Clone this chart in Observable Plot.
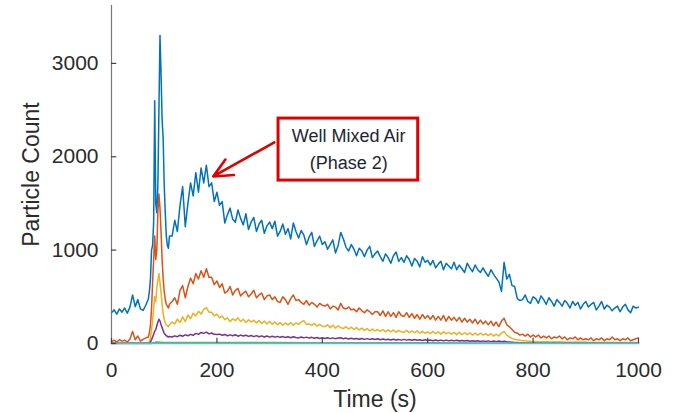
<!DOCTYPE html>
<html>
<head>
<meta charset="utf-8">
<script src="https://cdn.jsdelivr.net/npm/d3@7"></script>
<script src="https://cdn.jsdelivr.net/npm/@observablehq/plot@0.6"></script>
<style>
  html, body { margin: 0; padding: 0; background: #fff; }
</style>
</head>
<body>
<div id="chart"></div>
<script>
// ---- Data ----
const time = [
  0,5,10,15,20,25,30,35,40,45,50,55,60,65,70,
  72,74,76,78,80,82,84,86,88,90,92,94,96,98,100,102,104,106,108,110,
  115,120,125,130,135,140,145,150,155,160,165,170,175,180,185,190,195,200,
  205,210,215,220,225,230,235,240,245,250,
  255,260,265,270,275,280,285,290,295,300,
  305,310,315,320,325,330,335,340,345,350,
  355,360,365,370,375,380,385,390,395,400,
  405,410,415,420,425,430,435,440,445,450,
  455,460,465,470,475,480,485,490,495,500,
  505,510,515,520,525,530,535,540,545,550,
  555,560,565,570,575,580,585,590,595,600,
  605,610,615,620,625,630,635,640,645,650,
  655,660,665,670,675,680,685,690,695,700,
  705,710,715,720,725,730,735,740,745,750,
  755,760,765,770,775,780,785,790,795,800,
  805,810,815,820,825,830,835,840,845,850,
  855,860,865,870,875,880,885,890,895,900,
  905,910,915,920,925,930,935,940,945,950,
  955,960,965,970,975,980,985,990,995,1000
];

const blue = [
  330,360,315,370,335,380,325,390,520,395,470,370,355,410,480,
  560,700,1000,1050,1300,2600,1500,1400,1700,2500,3300,2900,2400,2200,1700,1400,1150,1050,1020,1150,
  1150,1320,1200,1480,1680,1250,1500,1720,1580,1830,1620,1880,1720,1910,1680,1720,1520,1620,
  1480,1520,1290,1380,1450,1330,1300,1430,1340,1270,
  1390,1220,1300,1350,1200,1280,1320,1180,1260,1300,
  1230,1310,1150,1200,1280,1170,1230,1120,1290,1200,
  1130,1210,1160,1060,1140,1190,1040,1100,1150,1060,
  1090,1010,1060,1110,970,1050,1190,1120,1030,990,
  1060,1010,940,1020,990,930,1000,1040,920,960,
  990,930,880,960,920,860,940,980,880,920,
  870,940,900,830,910,880,820,930,870,890,
  840,890,810,850,880,790,860,830,800,870,
  790,840,800,760,860,810,770,840,790,760,
  810,760,720,790,740,700,660,560,870,690,
  740,620,610,480,460,470,520,450,430,500,
  480,430,510,470,420,490,450,400,470,440,
  400,460,430,380,450,410,440,370,420,450,
  390,420,440,360,400,450,370,410,390,350,
  380,400,340,390,420,360,330,400,380,390
];

const orange = [
  20,35,15,40,25,35,15,45,130,40,80,25,45,60,70,
  120,200,380,650,900,1150,900,1000,1400,1600,1450,1200,900,700,560,470,420,400,380,420,
  450,490,420,570,620,490,610,700,640,750,690,780,710,800,710,710,630,670,
  600,640,540,560,610,520,570,590,510,540,
  560,500,530,570,490,520,540,470,510,520,
  470,500,450,440,500,470,420,480,520,460,
  470,440,420,460,410,440,420,390,430,410,
  400,420,370,400,390,360,430,380,370,390,
  360,370,340,380,350,330,360,340,310,340,
  340,300,350,290,340,290,330,280,340,300,
  290,330,280,320,270,310,260,310,270,300,
  260,300,250,290,250,300,240,290,250,280,
  240,280,230,270,230,260,220,260,210,250,
  210,240,200,240,190,230,180,240,270,200,
  180,150,120,110,90,100,80,100,70,90,
  70,90,60,80,60,80,50,70,60,80,
  50,70,40,60,50,70,40,60,40,50,
  40,60,30,50,40,60,30,50,40,70,
  40,50,30,50,40,60,30,40,50,60
];

const yellow = [
  5,8,5,6,5,8,6,5,10,6,8,5,6,8,10,
  20,60,150,250,380,500,450,600,680,750,650,550,420,320,260,220,200,190,180,200,
  230,210,260,225,285,235,305,265,325,295,345,315,365,385,335,335,295,315,
  275,295,255,275,235,265,245,275,235,260,
  225,255,230,250,220,245,215,240,210,235,
  205,230,200,225,195,220,200,225,195,220,
  205,230,245,205,210,195,215,185,205,185,
  180,200,170,195,165,190,170,160,180,155,
  175,150,170,145,165,140,160,135,155,135,
  150,130,150,125,145,125,145,120,140,125,
  120,140,115,135,115,135,110,130,110,125,
  105,130,105,125,100,125,105,120,100,120,
  95,120,95,115,95,115,90,110,90,110,
  90,105,85,105,80,100,80,110,130,90,
  70,55,45,40,35,30,30,25,25,20,
  22,20,18,20,18,20,16,18,15,18,
  15,17,14,16,14,16,13,15,13,15,
  12,14,12,14,12,14,11,13,11,13,
  11,12,10,12,10,12,10,11,10,12
];

const purple = [
  2,2,2,2,2,2,2,2,2,2,2,2,2,2,3,
  5,15,40,70,100,130,150,190,230,260,240,200,170,140,110,95,85,75,70,75,
  70,82,73,88,78,92,83,98,88,108,98,118,108,122,103,112,98,97,
  100,88,97,83,92,83,94,78,90,80,
  88,76,86,74,84,72,82,70,80,68,
  78,68,76,66,74,64,72,62,72,64,
  60,70,60,68,58,66,56,64,54,62,
  54,62,52,60,52,58,62,50,58,48,
  56,48,54,46,54,44,52,44,50,42,
  50,40,48,40,46,38,46,38,44,36,
  44,36,42,34,42,34,40,32,40,32,
  38,30,38,30,36,28,36,28,34,28,
  34,26,32,26,32,24,30,24,30,22,
  28,22,28,20,26,20,26,18,24,18,
  16,14,12,10,8,8,6,6,5,5,
  5,4,5,4,5,4,4,5,4,4,
  4,5,4,4,3,4,4,3,4,3,
  3,4,3,4,3,3,4,3,3,4,
  3,3,4,3,3,4,3,3,3,4
];

const timeLow = [0, 75, 85, 100, 150, 200, 300, 400, 500, 600, 700, 750, 800, 900, 1000];
const green   = [0, 0, 15, 10, 12, 12, 10, 9, 8, 7, 6, 5, 2, 2, 2];
const cyan    = [0, 0, 0, 0, 0, 0, 0, 0, 0, 0, 0, 0, 0, 0, 0];

const xTicks = [0, 200, 400, 600, 800, 1000];
const yTicks = [0, 1000, 2000, 3000];
const xLabel = "Time (s)";
const yLabel = "Particle Count";

// annotation (data coordinates)
const noteText = ["Well Mixed Air\n(Phase 2)"];
const noteX = [450];
const noteY = [2103];
const boxX = [317, 582];
const boxY = [1745, 2409];
const arrowFrom = [309, 2154];
const arrowTo = [193, 1789];

// ---- Build tables ----
const toRows = (ts, vs) => ts.map((t, i) => ({t, v: vs[i]})).filter(d => d.v !== undefined);
const series = [
  {rows: toRows(time, blue), color: "#0072BD"},
  {rows: toRows(time, orange), color: "#D95319"},
  {rows: toRows(time, yellow), color: "#EDB120"},
  {rows: toRows(time, purple), color: "#7E2F8E"},
  {rows: toRows(timeLow, green), color: "#77AC30"},
  {rows: toRows(timeLow, cyan), color: "#4DBEEE"}
];

const font = "'Liberation Sans', Arial, Helvetica, sans-serif";
const fmt = d => String(d);

const chart = Plot.plot({
  width: 674,
  height: 413,
  marginLeft: 111,
  marginRight: 36,
  marginTop: 5,
  marginBottom: 70,
  x: {domain: [0, 1000]},
  y: {domain: [0, 3620]},
  style: {fontFamily: font, color: "#2b2b2b", background: "#fff", overflow: "visible"},
  marks: [
    Plot.axisY({ticks: yTicks, tickFormat: fmt, tickSize: 0, tickPadding: 13, fontSize: 21, label: null, fill: "#2b2b2b"}),
    Plot.axisX({ticks: xTicks, tickFormat: fmt, tickSize: 0, tickPadding: 19, fontSize: 21, label: null, fill: "#2b2b2b"}),
    Plot.text([yLabel], {frameAnchor: "left", dx: -80, rotate: -90, fontSize: 23, fill: "#2b2b2b", lineAnchor: "middle", textAnchor: "middle"}),
    Plot.text([xLabel], {frameAnchor: "bottom", dy: 56, fontSize: 23, fill: "#2b2b2b", lineAnchor: "middle", textAnchor: "middle"}),
    ...series.map(s => Plot.line(s.rows, {x: "t", y: "v", stroke: s.color, strokeWidth: 1.5, strokeLinejoin: "round"})),
    Plot.ruleX([0], {stroke: "#777", strokeWidth: 1.2}),
    Plot.ruleY(yTicks, {x1: 0, x2: 10, stroke: "#444", strokeWidth: 1.2}),
    Plot.ruleX(xTicks, {y1: 0, y2: 55, stroke: "#444", strokeWidth: 1.2}),
    Plot.rect([0], {x1: boxX[0], x2: boxX[1], y1: boxY[0], y2: boxY[1], fill: "#fff", stroke: "#e00000", strokeWidth: 3}),
    Plot.text(noteText, {x: noteX[0], y: noteY[0], fontSize: 18, lineHeight: 1.45, fill: "#1c2633", textAnchor: "middle", lineAnchor: "middle"}),
    Plot.arrow([0], {x1: arrowFrom[0], y1: arrowFrom[1], x2: arrowTo[0], y2: arrowTo[1], stroke: "#e00000", strokeWidth: 2.6, headLength: 12, headAngle: 50})
  ]
});

document.getElementById("chart").appendChild(chart);
</script>
</body>
</html>
